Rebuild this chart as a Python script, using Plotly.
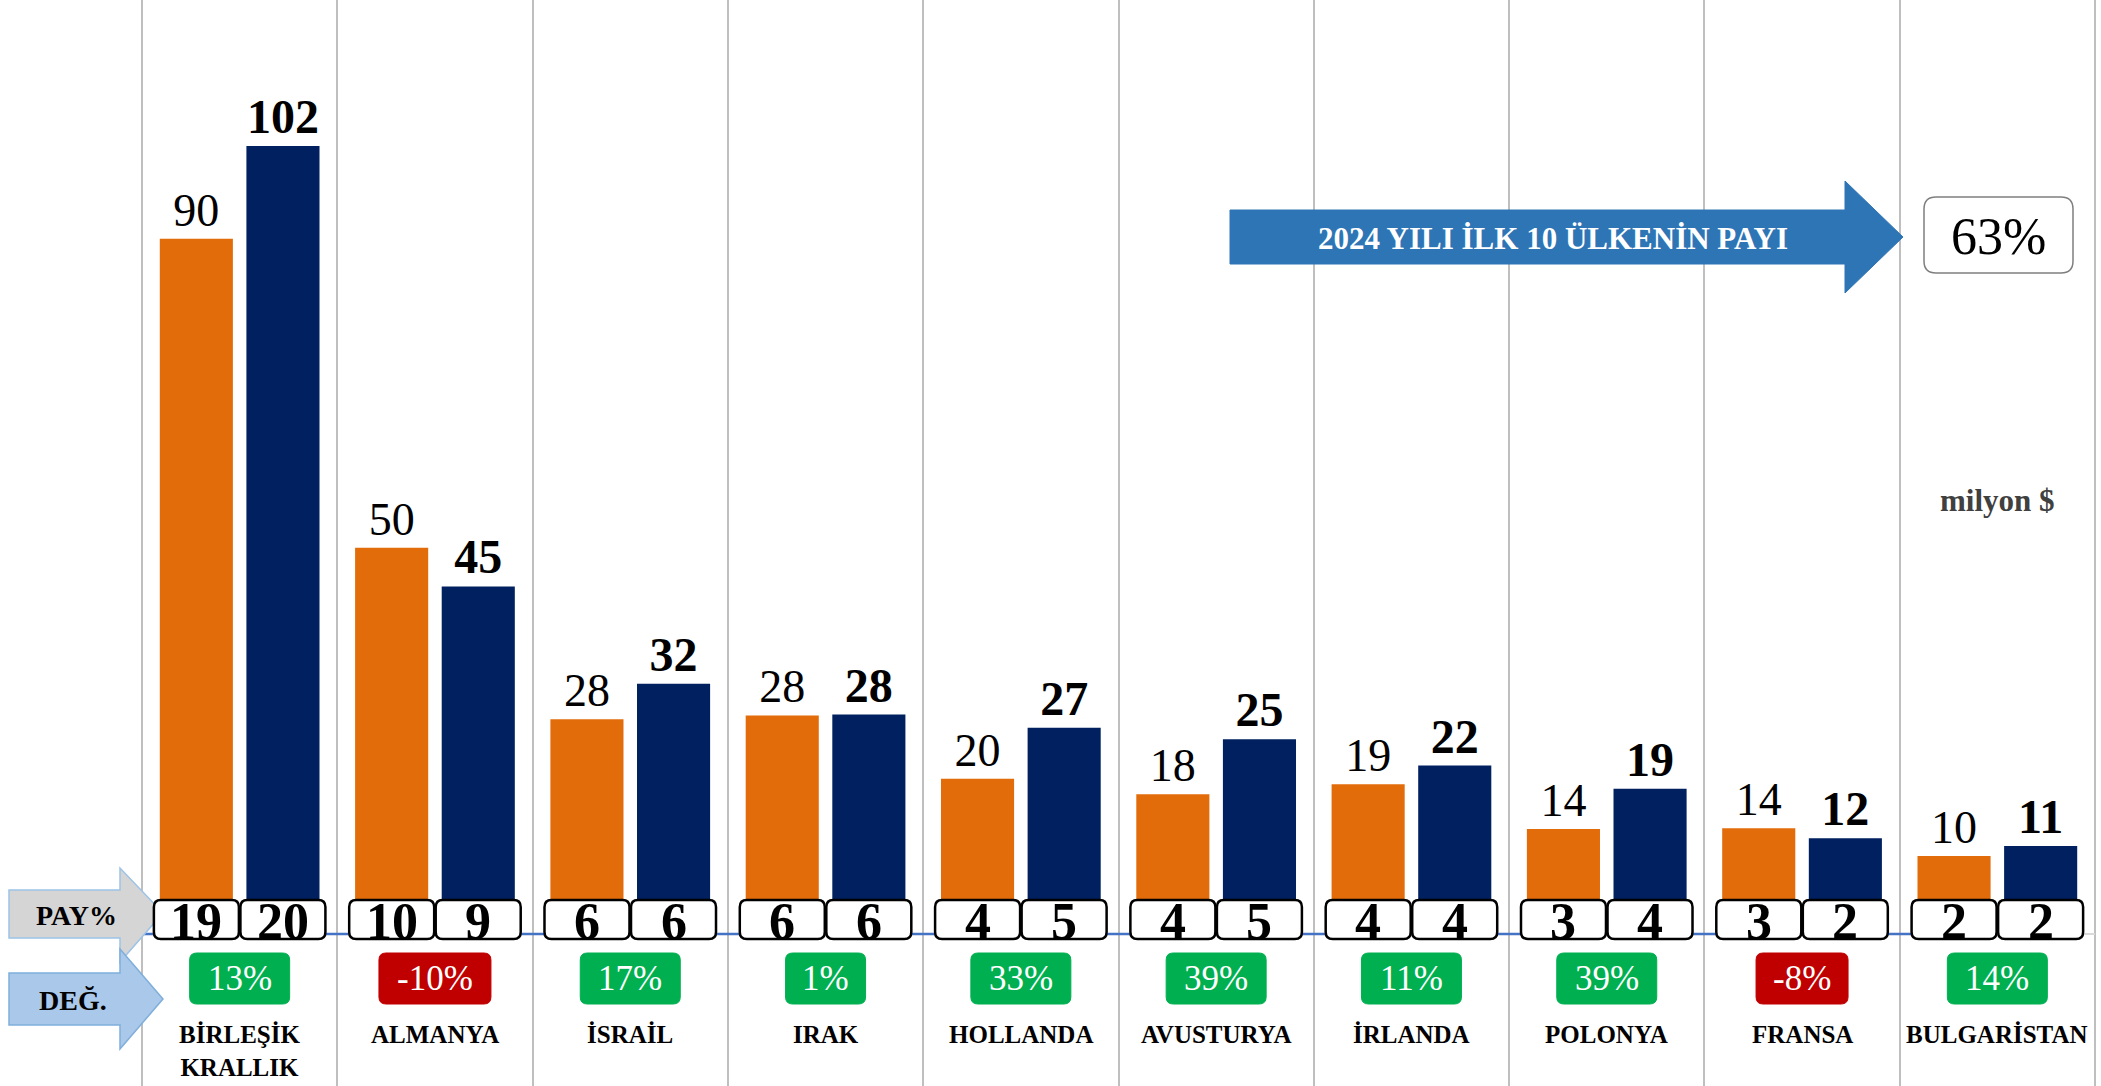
import plotly.graph_objects as go

# ---------------- data ----------------
countries = ["BİRLEŞİK<br>KRALLIK", "ALMANYA", "İSRAİL", "IRAK", "HOLLANDA",
             "AVUSTURYA", "İRLANDA", "POLONYA", "FRANSA", "BULGARİSTAN"]
val_2023 = [90, 50, 27.8, 28.3, 20.1, 18.1, 19.4, 13.6, 13.7, 10.1]
val_2024 = [102, 45, 32.4, 28.4, 26.7, 25.2, 21.8, 18.8, 12.4, 11.4]
pay_2023 = [19, 10, 6, 6, 4, 4, 4, 3, 3, 2]
pay_2024 = [20, 9, 6, 6, 5, 5, 4, 4, 2, 2]
change_pct = [13, -10, 17, 1, 33, 39, 11, 39, -8, 14]
top10_share = "63%"
unit_label = "milyon $"
arrow_title = "2024 YILI İLK 10 ÜLKENİN PAYI"

# ---------------- layout geometry ----------------
W, H = 2101, 1086
CAT_LEFT, CAT_W = 142.0, 195.3     # px of first category boundary, category width
BASE_PX, PX_PER_UNIT = 934.0, 7.725

def px2x(px):
    return (px - CAT_LEFT) / CAT_W - 0.5

def px2y(py):
    return (BASE_PX - py) / PX_PER_UNIT

def dx(px):
    return px / CAT_W

def dy(px):
    return px / PX_PER_UNIT

SERIF = "Liberation Serif"
ORANGE = "#E36C0A"
NAVY = "#002060"
n = len(countries)
xs = list(range(n))
BAR_OFF = 0.2215

fig = go.Figure()
fig.add_trace(go.Bar(
    x=xs, y=val_2023, name="2023", marker=dict(color=ORANGE, line=dict(width=0)),
    texttemplate="%{y:.0f}", textposition="outside", constraintext="none",
    textfont=dict(family=SERIF, size=46, color="black"), cliponaxis=False,
    hoverinfo="skip"))
fig.add_trace(go.Bar(
    x=xs, y=val_2024, name="2024", marker=dict(color=NAVY, line=dict(width=0)),
    texttemplate="%{y:.0f}", textposition="outside", constraintext="none",
    textfont=dict(family=SERIF, size=48, color="black", weight="bold"), cliponaxis=False,
    hoverinfo="skip"))

shapes = []
annotations = []

def rrect(x0, y0, x1, y1, r):
    rx, ry = dx(r), dy(r)
    return (f"M {x0+rx},{y0} L {x1-rx},{y0} Q {x1},{y0} {x1},{y0+ry} "
            f"L {x1},{y1-ry} Q {x1},{y1} {x1-rx},{y1} L {x0+rx},{y1} "
            f"Q {x0},{y1} {x0},{y1-ry} L {x0},{y0+ry} Q {x0},{y0} {x0+rx},{y0} Z")

def arrow_path(left, btop, bbot, hbase, htop, hbot, tip, tipy):
    pts = [(left, btop), (hbase, btop), (hbase, htop), (tip, tipy),
           (hbase, hbot), (hbase, bbot), (left, bbot)]
    return "M " + " L ".join(f"{px2x(a)},{px2y(b)}" for a, b in pts) + " Z"

# baseline (axis line)
shapes.append(dict(type="line", xref="x", yref="y", x0=-0.5, x1=px2x(1997), y0=0, y1=0,
                   line=dict(color="#4472C4", width=2.5)))
shapes.append(dict(type="line", xref="x", yref="y", x0=px2x(1997), x1=n - 0.5, y0=0, y1=0,
                   line=dict(color="#D9D9D9", width=2)))

# left arrows
shapes.append(dict(type="path", xref="x", yref="y",
                   path=arrow_path(9, 890, 938, 120, 868, 962, 163, 913),
                   fillcolor="#D5D5D5", line=dict(color="#9DC3E6", width=1.5)))
shapes.append(dict(type="path", xref="x", yref="y",
                   path=arrow_path(9, 973, 1025, 120, 949, 1049, 163, 999),
                   fillcolor="#A9C8EA", line=dict(color="#7FAEDB", width=1.5)))
annotations.append(dict(x=px2x(76), y=px2y(915), xref="x", yref="y", text="PAY%",
                        showarrow=False, font=dict(family=SERIF, size=28, color="black", weight="bold")))
annotations.append(dict(x=px2x(73), y=px2y(1000), xref="x", yref="y", text="DEĞ.",
                        showarrow=False, font=dict(family=SERIF, size=28, color="black", weight="bold")))

# PAY% boxes
box_w, box_top, box_bot = 85, 900, 939
for i in range(n):
    for off, val in ((-BAR_OFF, pay_2023[i]), (BAR_OFF, pay_2024[i])):
        cx = i + off
        shapes.append(dict(type="path", xref="x", yref="y",
                           path=rrect(cx - dx(box_w / 2), px2y(box_bot), cx + dx(box_w / 2), px2y(box_top), 7),
                           fillcolor="white", line=dict(color="black", width=2.5)))
        annotations.append(dict(x=cx, y=px2y(921), xref="x", yref="y", text=str(val),
                                showarrow=False,
                                font=dict(family=SERIF, size=52, color="black", weight="bold")))

# DEĞ. boxes
for i, c in enumerate(change_pct):
    txt = f"{c}%"
    w = 32 + sum(12 if ch == "-" else 28 if ch == "%" else 20 for ch in txt)
    col = "#00B050" if c >= 0 else "#C00000"
    shapes.append(dict(type="path", xref="x", yref="y",
                       path=rrect(i - dx(w / 2), px2y(1004), i + dx(w / 2), px2y(953), 7),
                       fillcolor=col, line=dict(color=col, width=1)))
    annotations.append(dict(x=i, y=px2y(978), xref="x", yref="y", text=txt, showarrow=False,
                            font=dict(family=SERIF, size=35, color="white")))

# country labels
for i, name in enumerate(countries):
    annotations.append(dict(x=i, y=px2y(1019), xref="x", yref="y", yanchor="top",
                            text=name, showarrow=False,
                            font=dict(family=SERIF, size=25, color="black", weight="bold")))

# top-10 arrow and share box
shapes.append(dict(type="path", xref="x", yref="y",
                   path=arrow_path(1230, 210, 264, 1845, 181, 293, 1903, 237),
                   fillcolor="#2E75B6", line=dict(color="#2E75B6", width=1)))
annotations.append(dict(x=px2x(1553), y=px2y(238), xref="x", yref="y", text=arrow_title,
                        showarrow=False, font=dict(family=SERIF, size=31, color="white", weight="bold")))
shapes.append(dict(type="path", xref="x", yref="y",
                   path=rrect(px2x(1924), px2y(273), px2x(2073), px2y(197), 12),
                   fillcolor="white", line=dict(color="#7F7F7F", width=1.5)))
annotations.append(dict(x=px2x(1998), y=px2y(236), xref="x", yref="y", text=top10_share,
                        showarrow=False, font=dict(family=SERIF, size=52, color="black")))
annotations.append(dict(x=px2x(1997), y=px2y(500), xref="x", yref="y", text=unit_label,
                        showarrow=False, font=dict(family=SERIF, size=31, color="#404040", weight="bold")))

fig.update_layout(
    width=W, height=H, margin=dict(l=0, r=0, t=0, b=0),
    paper_bgcolor="white", plot_bgcolor="white",
    barmode="group", bargap=0.113, bargroupgap=0.156,
    showlegend=False, shapes=shapes, annotations=annotations,
    xaxis=dict(range=[px2x(0), px2x(W)], tickvals=[i - 0.5 for i in range(n + 1)],
               showticklabels=False, ticks="", showgrid=True, gridcolor="#BFBFBF",
               gridwidth=1.5, zeroline=False, showline=False, fixedrange=True),
    yaxis=dict(range=[px2y(H), px2y(0)], showticklabels=False, ticks="", showgrid=False,
               zeroline=False, showline=False, fixedrange=True),
)

fig.write_html("out.html", config={"displayModeBar": False},
               post_script="document.body.style.margin='0';document.body.style.overflow='hidden';")
